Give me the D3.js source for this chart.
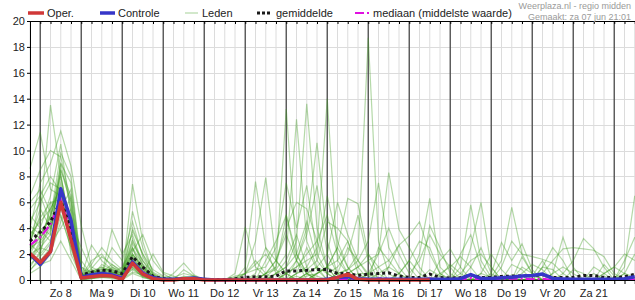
<!DOCTYPE html>
<html>
<head>
<meta charset="utf-8">
<script src="https://cdn.jsdelivr.net/npm/d3@7"></script>
<style>
body { margin: 0; background: #fff; }
svg { display: block; font-family: "Liberation Sans", Arial, sans-serif; }
</style>
</head>
<body>
<svg id="grafiek" width="635" height="300"></svg>
<script>
// dagen op de x-as (label midden op de dag)
var dagLabels = ["Zo 8","Ma 9","Di 10","Wo 11","Do 12","Vr 13","Za 14","Zo 15","Ma 16","Di 17","Wo 18","Do 19","Vr 20","Za 21"];
var yTicks = [0,2,4,6,8,10,12,14,16,18,20];

// neerslag per 6 uur, eerste punt = za 7 jun 18:00
var oper = [2.05,1.35,2.2,6.0,3.1,0.15,0.25,0.35,0.3,0.05,1.3,0.45,0.1,0,
  0,0.1,0.1, 0,0,0,0, 0,0,0,0, 0,0,0,0, 0,0.2,0.45,0.05, 0,0,0,0, 0,0,0];

var controle = [2.0,1.2,2.2,7.05,4.6,0.2,0.4,0.5,0.4,0.1,1.4,0.5,0.2,0.05,
  0.05,0.1,0.15, 0.05,0,0,0, 0,0,0,0, 0,0,0,0, 0.05,0.2,0.25,0.1, 0.05,0.05,0.05,0.05,
  0.05,0.05,0.05,0.05, 0.05,0.1,0.42,0.12, 0.12,0.18,0.22,0.3, 0.35,0.46,0.12,0.08,
  0.05,0.05,0.05,0.05, 0.05,0.1,0.25];

var gemiddelde = [3.0,3.7,4.5,6.1,4.0,0.4,0.6,0.75,0.7,0.5,1.8,1.0,0.3,0.1,
  0.05,0.12,0.1, 0.05,0.03,0.03,0.1, 0.2,0.25,0.25,0.3, 0.7,0.7,0.75,0.82, 0.8,0.5,0.5,0.35,
  0.45,0.5,0.55,0.3, 0.2,0.2,0.45,0.2, 0.15,0.18,0.38,0.2, 0.2,0.28,0.3,0.3,
  0.35,0.4,0.2,0.2, 0.2,0.35,0.35,0.2, 0.18,0.25,0.44];

var mediaan = [2.7,3.3,4.3,6.2,3.8,0.2,0.35,0.5,0.45,0.2,1.3,0.6,0.1,0.02,
  0,0.05,0.05, 0,0,0,0, 0,0,0,0, 0,0,0,0, 0,0.05,0.1,0.05, 0,0.1,0.1,0.05,
  0,0.05,0.1,0.05, 0,0.05,0.15,0.05, 0,0.05,0.1,0.1, 0.05,0.1,0,0,
  0,0,0,0, 0,0,0.05];

var leden = [
  [2.0,3.5,5.0,7.5,4.5,0.2,0.5,0.8,0.6,0.3,2.0,1.0,0.2,0, 0.5,1.3,0.4, 0,0,0,0, 0,0,0.2,1.0, 13.2,2.0,0.5,0, 0,0,0.3,0, 0,0,0,0, 0,0,0.2,0, 0,1.0,5.8,1.5, 0.2,0,0,0, 0,0,0,0, 0,0,0,0.3, 0,0,0],
  [1.5,2.5,3.5,8.5,6.0,0.5,0.3,0.4,1.0,0.5,3.0,1.5,0.3,0.1, 0,0.2,0.3, 0,0,0,0, 1.0,7.6,2.5,0.5, 0,0.3,0,0, 0,0,0,0, 0.5,0.2,0,0, 0,2.0,6.3,1.0, 0.2,0,0,0, 0,0,0.4,0, 0,0,0,0, 0,0,0,0, 0,0.5,0.2],
  [8.6,11.4,7.0,6.5,3.0,0.1,0.2,1.2,0.8,0.4,1.5,0.8,0.1,0, 0,0,0, 0,0,0,0, 0,0,0.5,0.8, 2.0,12.4,3.0,1.0, 0,0,0,0, 0,0,0,0, 0,0,0,0, 0,0,0,0.5, 0.2,1.5,5.6,2.0, 0.5,0,0,0, 0,0,0,0, 0,0,0],
  [3.0,5.0,13.5,8.0,4.0,0.3,0.8,0.5,0.3,0.2,7.4,3.0,0.5,0, 0,0.2,0, 0,0,0,0, 0,0,0,0.5, 1.0,3.0,13.6,4.0, 1.0,0,0,0, 0,0,0,0, 0,0,0,0, 0,0,0,0, 0,0,0,0, 0,0,0.5,3.3, 1.0,0,0,0, 0,0,0],
  [0.8,1.5,2.5,5.5,7.0,1.5,0.4,0.3,0.5,1.0,2.5,0.5,0,0, 0,0,0, 0,0,0,0, 0,0,0,0, 0,0.5,1.0,2.5, 14.0,1.5,0.5,0, 0,0,0,0, 0,0,0,0.3, 0,0,0,0, 0,0,0,0, 0,0,0,0, 0,0,0,0, 0,1.0,6.5],
  [5.5,6.5,4.5,9.0,5.5,0.2,1.2,2.5,1.5,0.8,1.2,0.3,0,0, 0,0,0, 0,0,0,0, 0,0.3,0,0, 0,0,0.5,0.3, 0,0.5,0.8,2.0, 18.7,3.0,0.5,0, 0,0,0,0, 0,0,0,0, 0,0,0,0, 0.3,1.5,0.2,0, 0,0,0,0, 0,0,0],
  [2.5,3.0,4.0,6.0,3.5,0,0.1,0.3,0.2,0.1,1.0,0.4,0.1,0, 0,0,0, 0,0,0,0, 0,0,0,0, 0.5,1.5,4.0,10.6, 3.0,0.5,0,0, 0,0,0,0, 0,0,0,0, 0,0,2.5,6.0, 1.0,0,0,0, 0,0,0,0, 0,0,0,0, 0,0,0],
  [4.0,7.5,9.0,11.5,8.8,4.2,1.0,0.6,0.4,0.3,4.0,2.0,0.8,0.3, 0.2,0.5,0.3, 0,0,0,0, 0.5,3.0,7.9,1.5, 0.5,0,0,0, 0,0,0,0, 0.5,2.0,8.3,3.9, 2.5,1.0,0,0, 0,0,0,0, 0,0,0,0, 0,0,0,0, 0,0,0,0, 0,0,0],
  [1.2,2.0,6.0,5.0,2.5,0.1,0.2,0.4,3.9,2.0,3.5,1.2,0.2,0, 0,0,0, 0,0,0,0.2, 0.5,0.8,1.0,2.5, 7.5,4.0,7.3,2.0, 0.5,0,0,0, 0,0,0,0, 0,0,0,0, 0,0,0,0, 0,0,0,0, 0,0,0,0.5, 1.5,3.2,2.4,1.0, 0,0,0],
  [3.5,4.5,5.5,7.0,3.0,0.3,2.7,1.5,0.8,0.5,2.2,3.5,1.5,0.5, 0,0,0, 0,0,0,0.5, 4.1,1.0,0.3,0, 0,1.5,3.5,7.3, 2.0,0.5,0,0, 0,0,0,0, 0,0,0,0, 0,0,0,0, 0.5,2.9,1.5,2.8, 0.8,0,0,0, 0,0,0,0, 0,0,0],
  [2.8,2.0,3.0,6.5,5.0,0.2,0.1,0.2,0.3,0.2,1.8,0.6,0.1,0, 0,0,0, 0,0,0,0, 0,0,0,0, 0,0,0.5,1.0, 2.0,6.0,3.5,1.5, 0.3,0,0,0, 0,0,0,1.5, 2.4,1.0,0,0, 0,0,0,0, 0,0,0,0, 0,0,0,0, 0,0,0],
  [6.5,8.5,10.0,9.5,6.0,0.8,0.6,0.8,0.5,0.4,2.8,1.5,0.5,0.1, 0,0,0, 0,0,0,0, 0,0,0,0, 0,0,0.3,0.5, 1.0,2.5,6.3,5.9, 2.0,1.0,0,0, 0,0,0,0, 0,0,0,0, 0,0,0,0, 0,0,0,0, 0,0,0,0, 0,1.5,3.3],
  [0.5,1.0,2.0,4.5,6.5,1.0,0.3,0.6,1.2,0.6,1.0,0.2,0,0, 0,0,0, 0,0,0,0, 0,0,0,0, 0,0,0,0.5, 1.0,0.5,0.8,1.5, 3.0,7.5,2.5,1.0, 0,0,0,0, 0,0,0,0, 0,0,0,1.8, 0.5,0,0,0, 0,0,0,0, 0,0,0],
  [3.2,5.5,4.0,8.0,4.0,0.4,0.5,0.9,0.7,0.3,5.3,2.5,0.6,0.2, 0,0,0, 0,0,0,0, 0,0,0,0, 0,0,0,0, 0,0,0,0.5, 0.5,1.0,1.5,2.7, 3.4,4.5,2.0,0.5, 0,0,0,0, 0,0,0,0, 0,0,0,0, 0,0,0,1.2, 0.3,0,0],
  [1.8,1.2,1.5,3.0,1.5,0,0.1,0.2,0.1,0,0.5,0.2,0,0, 0,0.8,0.3, 0,0,0,0, 0,0,1.5,3.0, 5.0,2.0,0.5,0, 0,0,0,0, 0,0,0,0, 0,0,4.2,2.5, 0.5,0,0,0, 0,0,0,0, 0,0,0,0, 0,0,0,0, 0,0,0],
  [4.5,6.0,7.5,7.0,2.0,0.2,0.6,1.0,0.6,0.3,1.5,0.5,0.2,0, 0,0,0, 0,0,0,0, 0,0,0,0, 0,0,0.5,1.0, 0.5,1.0,2.0,5.0, 1.5,0,0,0, 0,0,0,0, 0,2.0,3.5,1.0, 0,0,0,0, 0,0,0,0, 0,0,0,0, 0,0,0],
  [2.2,4.0,3.5,9.0,7.5,0.6,0.4,0.5,2.5,1.5,4.5,1.8,0.4,0, 0,0,0, 0,0,0,0, 0,0,0.5,1.5, 4.0,6.0,5.5,3.0, 1.0,0,0,0, 0,0,0,0, 0,0,0,0, 0,0,0,0, 0,0,0,0, 0,1.0,2.5,1.5, 0,0,0,0, 0,0,0],
  [1.0,2.2,4.5,5.5,3.5,0.1,0.3,0.4,0.5,0.2,0.8,0.3,0.1,0, 0,0,0, 0,0,0,0, 0,0,0,0, 0,0.5,0.8,1.5, 4.5,4.0,3.0,0.5, 0,0,0,0, 0,0,0,0, 0,0,0,0, 0,1.0,3.0,2.0, 1.8,1.6,1.3,0.5, 0,0,0,0, 0,0,0],
  [5.0,4.0,6.5,10.5,5.0,0.3,1.5,2.0,1.0,0.6,2.0,0.8,0.2,0, 0,0,0, 0,0,0,0.3, 0.5,1.5,0.5,0, 0,0.5,2.5,0.8, 0,0,0,0, 0,0.5,1.0,2.7, 1.0,0,0,0, 0,0,0,0, 0,0,0,0, 0,0.5,1.5,2.4, 2.5,2.4,2.3,1.8, 0.5,0,0],
  [2.5,3.8,3.0,6.0,4.5,2.5,0.8,0.4,0.3,0.2,1.2,0.6,0.2,0, 0,0,0, 0,0,0,0, 0,0,0,0, 0,0,0,0, 0,0,0.5,1.0, 1.5,2.0,4.0,2.0, 0.5,1.5,3.5,2.0, 1.0,0,0,0, 0,0,0,0, 0,0,0,0, 0,0,0,0.5, 1.0,2.0,1.5],
  [3.8,3.2,5.0,7.0,3.8,0.2,0.2,0.7,0.9,0.5,3.2,1.0,0.3,0.1, 0,0.3,0.1, 0,0,0,0, 0.5,1.2,2.0,0.8, 0,0,0,0.5, 1.0,2.5,1.0,0, 0,0,0,0, 0,0,0,0, 0,0,0,0.5, 2.0,0.8,0,0, 0,0,0,0, 0,0,0.5,0, 0,0,0],
  [0.7,1.8,2.8,4.0,5.5,0.7,0.5,0.3,0.2,0.1,0.6,0.4,2.0,0.6, 0.3,0,0, 0,0,0,0, 0,0,0.5,1.5, 3.5,1.5,0.5,0, 0,0,0.5,1.0, 2.0,0.5,0,0, 0,0,0,0, 0,0.5,1.5,2.0, 1.0,0,0,0, 0,0,0,0, 0,0,0,0, 0,0,0],
  [2.6,6.5,8.0,6.8,2.8,0.1,0.3,0.5,0.4,0.3,1.6,0.7,0.1,0, 0,0,0, 0,0,0,0, 0,0,0,0.5, 1.0,2.0,4.5,1.5, 0.5,0,0,0, 0,0,0,0.5, 1.5,0.5,0,0, 0,0,0,0, 0,0,0,0, 0,1.0,0.8,0, 0,0,0,0, 0,0,0],
  [1.5,2.8,3.8,8.5,6.5,0.5,0.2,0.3,0.6,0.4,2.5,1.2,0.3,0, 0,0,0, 0,0,0,0, 0,0,0.5,1.0, 5.0,1.5,0,0, 0,0,0,0, 0,0,0,0, 0,0,0,0.5, 1.0,1.8,1.0,0, 0,0,0,0, 0,0,0,0, 0.8,0.5,0,0, 0,0,0],
  [3.0,4.8,6.0,6.2,3.2,0.2,0.9,1.8,1.2,0.7,3.8,2.0,0.4,0, 0,0,0, 0,0,0,0, 0,0,0,0, 0.5,1.0,2.0,3.0, 5.0,2.0,0.5,0, 0,0,0,0, 0,0,0,0, 0,0,0,0, 0,0,0,0.5, 1.2,0.8,0,0, 0,0,0,0, 0,0,0],
  [2.0,2.5,2.2,5.0,2.5,0,0.2,0.2,0.2,0.1,0.9,0.3,0,0, 0,0,0, 0,0,0,0, 0,0,0,0.5, 1.5,3.5,1.0,0, 0,0,0,0, 0,0,0,0.5, 1.5,3.0,2.5,0.5, 0,0,0,0, 0,0,0,0, 0,0,0,0, 0,0,0,0.5, 1.0,0.5,0],
  [4.2,3.5,4.8,9.8,8.0,1.0,0.6,0.6,0.5,0.4,2.0,1.0,0.3,0, 0,0,0, 0,0,0,0, 0,0,0,0, 0,0,0,0.5, 1.0,1.5,3.0,1.0, 0,0,0,0, 0,0,0.8,0.3, 1.2,0.5,0,0, 0,0,0,1.0, 0.5,0,0,0, 0,0,0,0, 0,0.5,2.0],
  [1.6,3.0,5.5,7.2,4.2,0.3,0.4,0.5,0.3,0.2,1.4,0.5,0.1,0, 0,0,0, 0,0,0,0, 0,0.5,2.5,1.5, 0.5,0,0,0, 0,0,0,0, 0,2.5,1.5,0.5, 0,0,0,0, 0,0,0,0, 0,0,0,0, 0,0,0.5,1.0, 0.5,0,0,0, 0,0,0],
  [6.0,7.0,5.2,8.2,3.6,0.2,0.7,1.0,0.7,0.5,2.4,0.9,0.2,0, 0,0,0, 0,0,0,0, 0,0,0,0, 0.5,1.0,1.5,2.0, 6.5,3.0,1.0,0, 0,0,0,0, 0,0,0,0, 0,0,1.0,2.5, 0.5,0,0,0, 0,0,0,0, 0,0,1.0,0.5, 0,0,0],
  [2.3,3.3,4.2,6.0,4.8,0.4,0.3,0.5,0.6,0.3,1.8,0.7,0.2,0, 0,0,0, 0,0,0,0, 0,0,0,0, 0,0,0,0, 0,0.5,2.5,1.5, 0.5,0,1.0,0.5, 0,0,0,0, 0,0,0,0, 0,0,1.2,0.8, 0,0,0,0, 0,0,0,0, 0,0,0]
];

var W = 635, H = 300;
var links = 30, rechts = 634.75, boven = 21, onder = 280;

var svg = d3.select('#grafiek');

// uren t.o.v. zo 8 jun 00:00
var x = d3.scaleLinear().domain([-6, 348]).range([links, rechts]);
var y = d3.scaleLinear().domain([0, 20]).range([onder, boven]);

function uur(i) { return -6 + 6 * i; }

var zesUur = d3.range(-6, 349, 6);
var dagGrens = d3.range(0, 348, 24);

// raster
var raster = svg.append('g');
raster.selectAll('line.v')
	.data(zesUur.filter(function(h){ return h % 24 != 0; }))
	.enter().append('line')
	.attr('x1', function(h){ return x(h); })
	.attr('x2', function(h){ return x(h); })
	.attr('y1', boven).attr('y2', onder)
	.attr('stroke', '#dcdcdc').attr('stroke-width', 1);
raster.selectAll('line.h')
	.data(yTicks.filter(function(v){ return v > 0 && v < 20; }))
	.enter().append('line')
	.attr('x1', links).attr('x2', W)
	.attr('y1', function(v){ return Math.round(y(v)) + 0.5; })
	.attr('y2', function(v){ return Math.round(y(v)) + 0.5; })
	.attr('stroke', '#dcdcdc').attr('stroke-width', 1);
raster.selectAll('line.d')
	.data(dagGrens)
	.enter().append('line')
	.attr('x1', function(h){ return x(h); })
	.attr('x2', function(h){ return x(h); })
	.attr('y1', boven).attr('y2', onder)
	.attr('stroke', '#555').attr('stroke-width', 1.4);

// lijnen
var lijn = d3.line()
	.x(function(d, i){ return x(uur(i)); })
	.y(function(d){ return y(d); });

svg.append('g').selectAll('path')
	.data(leden)
	.enter().append('path')
	.attr('d', lijn)
	.attr('fill', 'none')
	.attr('stroke', '#3c9a1c')
	.attr('stroke-opacity', 0.38)
	.attr('stroke-width', 1.2);

svg.append('path').datum(mediaan)
	.attr('d', lijn).attr('fill', 'none')
	.attr('stroke', '#e010e0').attr('stroke-width', 2.2)
	.attr('stroke-dasharray', '9,3,2,3');

svg.append('path').datum(gemiddelde)
	.attr('d', lijn).attr('fill', 'none')
	.attr('stroke', '#1a1a1a').attr('stroke-width', 3)
	.attr('stroke-dasharray', '3,3');

svg.append('path').datum(controle)
	.attr('d', lijn).attr('fill', 'none')
	.attr('stroke', '#3636c8').attr('stroke-width', 3.5)
	.attr('stroke-linejoin', 'round');

svg.append('path').datum(oper)
	.attr('d', lijn).attr('fill', 'none')
	.attr('stroke', '#d03838').attr('stroke-width', 3.5)
	.attr('stroke-linejoin', 'round');

// assen
var yAs = svg.append('g')
	.attr('transform', 'translate(' + links + ',0)')
	.call(d3.axisLeft(y).tickValues(yTicks).tickSize(3).tickPadding(2).tickSizeOuter(0));
var xAs = svg.append('g')
	.attr('transform', 'translate(0,' + onder + ')')
	.call(d3.axisBottom(x).tickValues(zesUur).tickSize(4).tickSizeOuter(0).tickFormat(''));
var topAs = svg.append('g')
	.attr('transform', 'translate(0,' + boven + ')')
	.call(d3.axisBottom(x).tickValues(zesUur).tickSize(3).tickSizeOuter(0).tickFormat(''));
topAs.select('.domain').attr('d', 'M' + links + ',0.5H' + W);
xAs.select('.domain').attr('d', 'M' + links + ',0.5H' + W);

svg.selectAll('.domain, .tick line').attr('stroke', '#000');
yAs.selectAll('text')
	.attr('font-size', 11)
	.attr('font-family', '"Liberation Sans", Arial, sans-serif')
	.attr('fill', '#222');

svg.append('g').selectAll('text')
	.data(dagLabels)
	.enter().append('text')
	.attr('x', function(d, k){ return x(24 * k + 12); })
	.attr('y', 296.5)
	.attr('text-anchor', 'middle')
	.attr('font-size', 11)
	.attr('fill', '#222')
	.text(function(d){ return d; });

// legenda
var leg = svg.append('g').attr('font-size', 11).attr('fill', '#222');
var legY = 13;
function legItem(x1, x2, tx, tekst, stijl) {
	var l = leg.append('line')
		.attr('x1', x1).attr('x2', x2)
		.attr('y1', legY).attr('y2', legY);
	stijl(l);
	leg.append('text').attr('x', tx).attr('y', legY + 4).text(tekst);
}
legItem(28, 44, 47, 'Oper.', function(l){ l.attr('stroke', '#d03838').attr('stroke-width', 3.5); });
legItem(100, 115, 118, 'Controle', function(l){ l.attr('stroke', '#3636c8').attr('stroke-width', 3.5); });
legItem(185, 198, 202, 'Leden', function(l){ l.attr('stroke', '#3c9a1c').attr('stroke-opacity', 0.38).attr('stroke-width', 1.2); });
legItem(257, 272, 276, 'gemiddelde', function(l){ l.attr('stroke', '#1a1a1a').attr('stroke-width', 3).attr('stroke-dasharray', '3,2'); });
legItem(355, 370, 373, 'mediaan (middelste waarde)', function(l){ l.attr('stroke', '#e010e0').attr('stroke-width', 2.2).attr('stroke-dasharray', '9,3,2,3'); });

// bron
svg.append('text')
	.attr('x', 631).attr('y', 9)
	.attr('text-anchor', 'end')
	.attr('font-size', 9)
	.attr('fill', '#9a9a9a')
	.text('Weerplaza.nl - regio midden');
svg.append('text')
	.attr('x', 631).attr('y', 19.5)
	.attr('text-anchor', 'end')
	.attr('font-size', 9)
	.attr('fill', '#9a9a9a')
	.text('Gemaakt: za 07 jun 21:01');
</script>
</body>
</html>
